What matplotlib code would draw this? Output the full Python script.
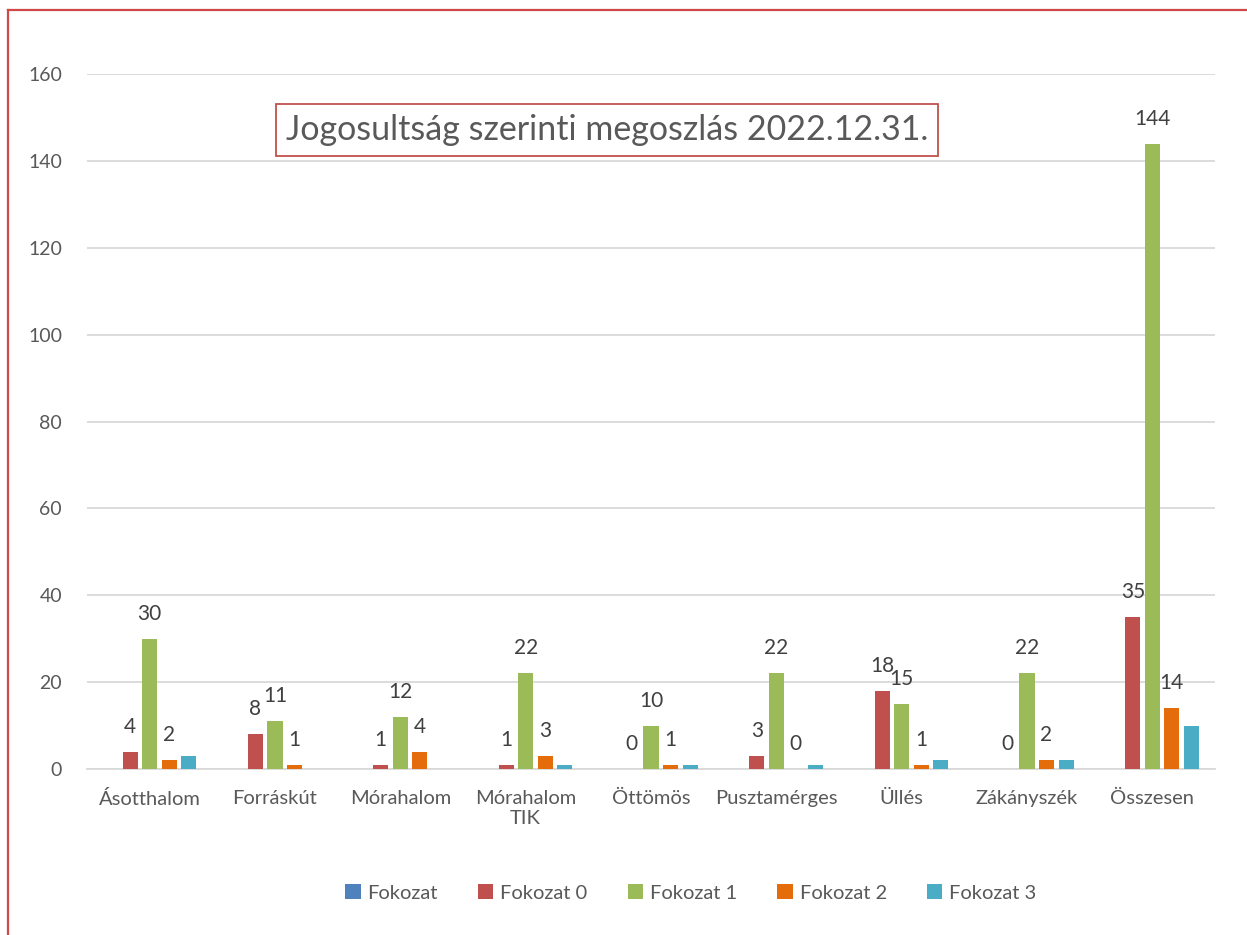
import numpy as np
import matplotlib
matplotlib.use("Agg")
import matplotlib.pyplot as plt
from matplotlib.lines import Line2D

plt.rcParams["font.family"] = ["Lato", "DejaVu Sans"]

categories = ["Ásotthalom", "Forráskút", "Mórahalom", "Mórahalom\nTIK", "Öttömös",
              "Pusztamérges", "Üllés", "Zákányszék", "Összesen"]
series_names = ["Fokozat", "Fokozat 0", "Fokozat 1", "Fokozat 2", "Fokozat 3"]
fokozat = [0, 0, 0, 0, 0, 0, 0, 0, 0]
fokozat_0 = [4, 8, 1, 1, 0, 3, 18, 0, 35]
fokozat_1 = [30, 11, 12, 22, 10, 22, 15, 22, 144]
fokozat_2 = [2, 1, 4, 3, 1, 0, 1, 2, 14]
fokozat_3 = [3, 0, 0, 1, 1, 1, 2, 2, 10]
series_values = [fokozat, fokozat_0, fokozat_1, fokozat_2, fokozat_3]
labelled = [False, True, True, True, False]
colors = ["#4F81BD", "#C0504D", "#9BBB59", "#E46C0A", "#4BACC6"]

W, H = 1247, 935
fig = plt.figure(figsize=(W / 100, H / 100), dpi=100)
ax = fig.add_axes([87 / W, 1 - 769 / H, (1215 - 87) / W, (769 - 74) / H])

x = np.arange(len(categories))
width = 0.12
step = 0.156
for i, (name, vals) in enumerate(zip(series_names, series_values)):
    pos = x + (i - 2) * step
    ax.bar(pos, vals, width, color=colors[i], label=name, zorder=3)
    if labelled[i]:
        for xp, v in zip(pos, vals):
            ax.annotate(str(v), (xp, v), xytext=(0, 18), textcoords="offset points",
                        ha="center", va="center", fontsize=15, color="#404040", zorder=4)

ax.set_xlim(-0.5, len(categories) - 0.5)
ax.set_ylim(0, 160)
ax.set_yticks(range(0, 161, 20))
ax.set_xticks(x)
ax.set_xticklabels(categories)
ax.grid(axis="y", color="#D9D9D9", linewidth=1.3, zorder=0)
for s in ["top", "right", "left"]:
    ax.spines[s].set_visible(False)
ax.spines["bottom"].set_color("#D9D9D9")
ax.spines["bottom"].set_linewidth(1.3)
ax.tick_params(axis="both", length=0, labelcolor="#595959")
ax.tick_params(axis="x", pad=15, labelsize=14.5)
ax.tick_params(axis="y", pad=18, labelsize=14)

fig.text(607 / W, 1 - 130 / H, "Jogosultság szerinti megoszlás 2022.12.31.",
         ha="center", va="center", fontsize=24.5, color="#595959",
         bbox=dict(boxstyle="square,pad=0.3", facecolor="white", edgecolor="#C0504D", linewidth=1.3))

fig.legend(loc="center", bbox_to_anchor=(691 / W, 1 - 893 / H), ncol=5, frameon=False,
           fontsize=14.5, handlelength=0.75, handleheight=0.75, handletextpad=0.35,
           columnspacing=2.0, labelcolor="#595959")

fig.add_artist(Line2D([8 / W, 8 / W], [0, 1 - 10 / H], color="#D04848", linewidth=1.6))
fig.add_artist(Line2D([8 / W, 1], [1 - 10 / H, 1 - 10 / H], color="#D04848", linewidth=1.6))

fig.savefig("out.png", dpi=100)
